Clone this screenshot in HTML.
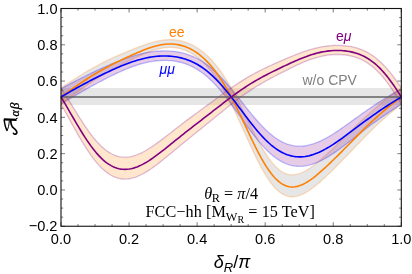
<!DOCTYPE html>
<html><head><meta charset="utf-8"><style>
html,body{margin:0;padding:0;background:#fff;}
svg{display:block}
text{font-family:"Liberation Sans",sans-serif;}
.tl{font-size:14.6px;fill:#000}
.lab{font-size:14px}
.ser{font-family:"Liberation Serif",serif;font-size:16.2px;fill:#000}
.ser2{font-family:"Liberation Serif",serif;fill:#000}
.xl{font-size:18px;fill:#000}
</style></head><body>
<svg width="412" height="274" viewBox="0 0 412 274">
<rect width="412" height="274" fill="#fff"/>
<rect x="61.0" y="88" width="340.3" height="17" fill="#808080" fill-opacity="0.2"/>
<path d="M61.00,88.03 L63.00,86.66 L65.00,85.31 L67.01,83.97 L69.01,82.64 L71.01,81.33 L73.01,80.03 L75.01,78.75 L77.01,77.48 L79.02,76.22 L81.02,74.98 L83.02,73.75 L85.02,72.54 L87.02,71.35 L89.02,70.18 L91.03,69.03 L93.03,67.90 L95.03,66.79 L97.03,65.70 L99.03,64.63 L101.04,63.59 L103.04,62.57 L105.04,61.56 L107.04,60.58 L109.04,59.62 L111.04,58.68 L113.05,57.76 L115.05,56.85 L117.05,55.96 L119.05,55.08 L121.05,54.21 L123.05,53.35 L125.06,52.50 L127.06,51.66 L129.06,50.84 L131.06,50.02 L133.06,49.21 L135.07,48.41 L137.07,47.63 L139.07,46.86 L141.07,46.11 L143.07,45.38 L145.07,44.67 L147.08,44.00 L149.08,43.35 L151.08,42.75 L153.08,42.18 L155.08,41.66 L157.08,41.19 L159.09,40.78 L161.09,40.42 L163.09,40.13 L165.09,39.91 L167.09,39.76 L169.10,39.68 L171.10,39.68 L173.10,39.76 L175.10,39.92 L177.10,40.16 L179.10,40.50 L181.11,40.92 L183.11,41.43 L185.11,42.04 L187.11,42.74 L189.11,43.54 L191.11,44.44 L193.12,45.44 L195.12,46.54 L197.12,47.75 L199.12,49.07 L201.12,50.51 L203.13,52.06 L205.13,53.73 L207.13,55.53 L209.13,57.46 L211.13,59.52 L213.13,61.72 L215.14,64.06 L217.14,66.54 L219.14,69.16 L221.14,71.93 L223.14,74.84 L225.14,77.89 L227.15,81.08 L229.15,84.41 L231.15,87.86 L233.15,91.44 L235.15,95.13 L237.16,98.91 L239.16,102.79 L241.16,106.74 L243.16,110.74 L245.16,114.79 L247.16,118.85 L249.17,122.91 L251.17,126.95 L253.17,130.95 L255.17,134.88 L257.17,138.73 L259.17,142.46 L261.18,146.07 L263.18,149.52 L265.18,152.80 L267.18,155.90 L269.18,158.79 L271.19,161.46 L273.19,163.90 L275.19,166.11 L277.19,168.07 L279.19,169.77 L281.19,171.23 L283.20,172.43 L285.20,173.38 L287.20,174.09 L289.20,174.55 L291.20,174.79 L293.20,174.81 L295.21,174.62 L297.21,174.23 L299.21,173.66 L301.21,172.92 L303.21,172.03 L305.22,170.99 L307.22,169.83 L309.22,168.56 L311.22,167.18 L313.22,165.72 L315.22,164.18 L317.23,162.57 L319.23,160.90 L321.23,159.18 L323.23,157.42 L325.23,155.62 L327.23,153.80 L329.24,151.94 L331.24,150.07 L333.24,148.17 L335.24,146.26 L337.24,144.33 L339.25,142.39 L341.25,140.45 L343.25,138.49 L345.25,136.53 L347.25,134.57 L349.25,132.61 L351.26,130.64 L353.26,128.69 L355.26,126.73 L357.26,124.79 L359.26,122.85 L361.26,120.93 L363.27,119.03 L365.27,117.15 L367.27,115.29 L369.27,113.45 L371.27,111.64 L373.28,109.86 L375.28,108.11 L377.28,106.39 L379.28,104.70 L381.28,103.04 L383.28,101.41 L385.29,99.82 L387.29,98.25 L389.29,96.72 L391.29,95.21 L393.29,93.73 L395.29,92.27 L397.30,90.84 L399.30,89.43 L401.30,88.03 L401.30,104.23 L399.30,105.80 L397.30,107.40 L395.29,109.02 L393.29,110.65 L391.29,112.32 L389.29,114.01 L387.29,115.72 L385.29,117.47 L383.28,119.24 L381.28,121.05 L379.28,122.88 L377.28,124.75 L375.28,126.65 L373.28,128.57 L371.27,130.53 L369.27,132.51 L367.27,134.51 L365.27,136.54 L363.27,138.58 L361.26,140.64 L359.26,142.71 L357.26,144.79 L355.26,146.88 L353.26,148.97 L351.26,151.06 L349.25,153.15 L347.25,155.24 L345.25,157.32 L343.25,159.39 L341.25,161.45 L339.25,163.49 L337.24,165.52 L335.24,167.53 L333.24,169.53 L331.24,171.50 L329.24,173.44 L327.23,175.36 L325.23,177.25 L323.23,179.10 L321.23,180.90 L319.23,182.66 L317.23,184.37 L315.22,186.01 L313.22,187.58 L311.22,189.06 L309.22,190.46 L307.22,191.75 L305.22,192.92 L303.21,193.96 L301.21,194.86 L299.21,195.60 L297.21,196.18 L295.21,196.56 L293.20,196.76 L291.20,196.74 L289.20,196.50 L287.20,196.03 L285.20,195.32 L283.20,194.37 L281.19,193.15 L279.19,191.69 L277.19,189.96 L275.19,187.97 L273.19,185.73 L271.19,183.24 L269.18,180.50 L267.18,177.53 L265.18,174.33 L263.18,170.93 L261.18,167.34 L259.17,163.56 L257.17,159.64 L255.17,155.57 L253.17,151.39 L251.17,147.12 L249.17,142.77 L247.16,138.38 L245.16,133.96 L243.16,129.54 L241.16,125.14 L239.16,120.77 L237.16,116.46 L235.15,112.22 L233.15,108.08 L231.15,104.03 L229.15,100.11 L227.15,96.31 L225.14,92.65 L223.14,89.13 L221.14,85.76 L219.14,82.54 L217.14,79.48 L215.14,76.58 L213.13,73.83 L211.13,71.24 L209.13,68.80 L207.13,66.51 L205.13,64.36 L203.13,62.36 L201.12,60.50 L199.12,58.78 L197.12,57.19 L195.12,55.74 L193.12,54.40 L191.11,53.20 L189.11,52.11 L187.11,51.14 L185.11,50.29 L183.11,49.56 L181.11,48.93 L179.10,48.42 L177.10,48.01 L175.10,47.71 L173.10,47.52 L171.10,47.42 L169.10,47.42 L167.09,47.52 L165.09,47.70 L163.09,47.98 L161.09,48.33 L159.09,48.76 L157.08,49.26 L155.08,49.83 L153.08,50.46 L151.08,51.15 L149.08,51.88 L147.08,52.66 L145.07,53.48 L143.07,54.33 L141.07,55.21 L139.07,56.12 L137.07,57.04 L135.07,57.99 L133.06,58.95 L131.06,59.92 L129.06,60.90 L127.06,61.89 L125.06,62.89 L123.05,63.90 L121.05,64.93 L119.05,65.96 L117.05,67.01 L115.05,68.07 L113.05,69.15 L111.04,70.24 L109.04,71.35 L107.04,72.49 L105.04,73.64 L103.04,74.82 L101.04,76.02 L99.03,77.25 L97.03,78.50 L95.03,79.77 L93.03,81.07 L91.03,82.39 L89.02,83.73 L87.02,85.10 L85.02,86.48 L83.02,87.88 L81.02,89.29 L79.02,90.73 L77.01,92.17 L75.01,93.63 L73.01,95.11 L71.01,96.59 L69.01,98.09 L67.01,99.61 L65.00,101.13 L63.00,102.67 L61.00,104.23Z" fill="#808080" fill-opacity="0.2" stroke="none"/>
<path d="M61.00,88.03 L63.00,86.66 L65.00,85.31 L67.01,83.97 L69.01,82.64 L71.01,81.33 L73.01,80.03 L75.01,78.75 L77.01,77.48 L79.02,76.22 L81.02,74.98 L83.02,73.75 L85.02,72.54 L87.02,71.35 L89.02,70.18 L91.03,69.03 L93.03,67.90 L95.03,66.79 L97.03,65.70 L99.03,64.63 L101.04,63.59 L103.04,62.57 L105.04,61.56 L107.04,60.58 L109.04,59.62 L111.04,58.68 L113.05,57.76 L115.05,56.85 L117.05,55.96 L119.05,55.08 L121.05,54.21 L123.05,53.35 L125.06,52.50 L127.06,51.66 L129.06,50.84 L131.06,50.02 L133.06,49.21 L135.07,48.41 L137.07,47.63 L139.07,46.86 L141.07,46.11 L143.07,45.38 L145.07,44.67 L147.08,44.00 L149.08,43.35 L151.08,42.75 L153.08,42.18 L155.08,41.66 L157.08,41.19 L159.09,40.78 L161.09,40.42 L163.09,40.13 L165.09,39.91 L167.09,39.76 L169.10,39.68 L171.10,39.68 L173.10,39.76 L175.10,39.92 L177.10,40.16 L179.10,40.50 L181.11,40.92 L183.11,41.43 L185.11,42.04 L187.11,42.74 L189.11,43.54 L191.11,44.44 L193.12,45.44 L195.12,46.54 L197.12,47.75 L199.12,49.07 L201.12,50.51 L203.13,52.06 L205.13,53.73 L207.13,55.53 L209.13,57.46 L211.13,59.52 L213.13,61.72 L215.14,64.06 L217.14,66.54 L219.14,69.16 L221.14,71.93 L223.14,74.84 L225.14,77.89 L227.15,81.08 L229.15,84.41 L231.15,87.86 L233.15,91.44 L235.15,95.13 L237.16,98.91 L239.16,102.79 L241.16,106.74 L243.16,110.74 L245.16,114.79 L247.16,118.85 L249.17,122.91 L251.17,126.95 L253.17,130.95 L255.17,134.88 L257.17,138.73 L259.17,142.46 L261.18,146.07 L263.18,149.52 L265.18,152.80 L267.18,155.90 L269.18,158.79 L271.19,161.46 L273.19,163.90 L275.19,166.11 L277.19,168.07 L279.19,169.77 L281.19,171.23 L283.20,172.43 L285.20,173.38 L287.20,174.09 L289.20,174.55 L291.20,174.79 L293.20,174.81 L295.21,174.62 L297.21,174.23 L299.21,173.66 L301.21,172.92 L303.21,172.03 L305.22,170.99 L307.22,169.83 L309.22,168.56 L311.22,167.18 L313.22,165.72 L315.22,164.18 L317.23,162.57 L319.23,160.90 L321.23,159.18 L323.23,157.42 L325.23,155.62 L327.23,153.80 L329.24,151.94 L331.24,150.07 L333.24,148.17 L335.24,146.26 L337.24,144.33 L339.25,142.39 L341.25,140.45 L343.25,138.49 L345.25,136.53 L347.25,134.57 L349.25,132.61 L351.26,130.64 L353.26,128.69 L355.26,126.73 L357.26,124.79 L359.26,122.85 L361.26,120.93 L363.27,119.03 L365.27,117.15 L367.27,115.29 L369.27,113.45 L371.27,111.64 L373.28,109.86 L375.28,108.11 L377.28,106.39 L379.28,104.70 L381.28,103.04 L383.28,101.41 L385.29,99.82 L387.29,98.25 L389.29,96.72 L391.29,95.21 L393.29,93.73 L395.29,92.27 L397.30,90.84 L399.30,89.43 L401.30,88.03" fill="none" stroke="#FF8000" stroke-opacity="0.25" stroke-width="1.3"/>
<path d="M61.00,104.23 L63.00,102.67 L65.00,101.13 L67.01,99.61 L69.01,98.09 L71.01,96.59 L73.01,95.11 L75.01,93.63 L77.01,92.17 L79.02,90.73 L81.02,89.29 L83.02,87.88 L85.02,86.48 L87.02,85.10 L89.02,83.73 L91.03,82.39 L93.03,81.07 L95.03,79.77 L97.03,78.50 L99.03,77.25 L101.04,76.02 L103.04,74.82 L105.04,73.64 L107.04,72.49 L109.04,71.35 L111.04,70.24 L113.05,69.15 L115.05,68.07 L117.05,67.01 L119.05,65.96 L121.05,64.93 L123.05,63.90 L125.06,62.89 L127.06,61.89 L129.06,60.90 L131.06,59.92 L133.06,58.95 L135.07,57.99 L137.07,57.04 L139.07,56.12 L141.07,55.21 L143.07,54.33 L145.07,53.48 L147.08,52.66 L149.08,51.88 L151.08,51.15 L153.08,50.46 L155.08,49.83 L157.08,49.26 L159.09,48.76 L161.09,48.33 L163.09,47.98 L165.09,47.70 L167.09,47.52 L169.10,47.42 L171.10,47.42 L173.10,47.52 L175.10,47.71 L177.10,48.01 L179.10,48.42 L181.11,48.93 L183.11,49.56 L185.11,50.29 L187.11,51.14 L189.11,52.11 L191.11,53.20 L193.12,54.40 L195.12,55.74 L197.12,57.19 L199.12,58.78 L201.12,60.50 L203.13,62.36 L205.13,64.36 L207.13,66.51 L209.13,68.80 L211.13,71.24 L213.13,73.83 L215.14,76.58 L217.14,79.48 L219.14,82.54 L221.14,85.76 L223.14,89.13 L225.14,92.65 L227.15,96.31 L229.15,100.11 L231.15,104.03 L233.15,108.08 L235.15,112.22 L237.16,116.46 L239.16,120.77 L241.16,125.14 L243.16,129.54 L245.16,133.96 L247.16,138.38 L249.17,142.77 L251.17,147.12 L253.17,151.39 L255.17,155.57 L257.17,159.64 L259.17,163.56 L261.18,167.34 L263.18,170.93 L265.18,174.33 L267.18,177.53 L269.18,180.50 L271.19,183.24 L273.19,185.73 L275.19,187.97 L277.19,189.96 L279.19,191.69 L281.19,193.15 L283.20,194.37 L285.20,195.32 L287.20,196.03 L289.20,196.50 L291.20,196.74 L293.20,196.76 L295.21,196.56 L297.21,196.18 L299.21,195.60 L301.21,194.86 L303.21,193.96 L305.22,192.92 L307.22,191.75 L309.22,190.46 L311.22,189.06 L313.22,187.58 L315.22,186.01 L317.23,184.37 L319.23,182.66 L321.23,180.90 L323.23,179.10 L325.23,177.25 L327.23,175.36 L329.24,173.44 L331.24,171.50 L333.24,169.53 L335.24,167.53 L337.24,165.52 L339.25,163.49 L341.25,161.45 L343.25,159.39 L345.25,157.32 L347.25,155.24 L349.25,153.15 L351.26,151.06 L353.26,148.97 L355.26,146.88 L357.26,144.79 L359.26,142.71 L361.26,140.64 L363.27,138.58 L365.27,136.54 L367.27,134.51 L369.27,132.51 L371.27,130.53 L373.28,128.57 L375.28,126.65 L377.28,124.75 L379.28,122.88 L381.28,121.05 L383.28,119.24 L385.29,117.47 L387.29,115.72 L389.29,114.01 L391.29,112.32 L393.29,110.65 L395.29,109.02 L397.30,107.40 L399.30,105.80 L401.30,104.23" fill="none" stroke="#FF8000" stroke-opacity="0.25" stroke-width="1.3"/>
<path d="M61.00,88.84 L63.00,87.72 L65.00,86.62 L67.01,85.54 L69.01,84.46 L71.01,83.40 L73.01,82.34 L75.01,81.30 L77.01,80.26 L79.02,79.24 L81.02,78.22 L83.02,77.22 L85.02,76.22 L87.02,75.24 L89.02,74.26 L91.03,73.30 L93.03,72.34 L95.03,71.39 L97.03,70.45 L99.03,69.53 L101.04,68.61 L103.04,67.70 L105.04,66.81 L107.04,65.93 L109.04,65.06 L111.04,64.21 L113.05,63.37 L115.05,62.54 L117.05,61.74 L119.05,60.95 L121.05,60.18 L123.05,59.43 L125.06,58.70 L127.06,58.00 L129.06,57.32 L131.06,56.67 L133.06,56.05 L135.07,55.46 L137.07,54.89 L139.07,54.36 L141.07,53.87 L143.07,53.40 L145.07,52.98 L147.08,52.59 L149.08,52.24 L151.08,51.92 L153.08,51.65 L155.08,51.42 L157.08,51.23 L159.09,51.08 L161.09,50.98 L163.09,50.92 L165.09,50.91 L167.09,50.95 L169.10,51.04 L171.10,51.17 L173.10,51.36 L175.10,51.60 L177.10,51.90 L179.10,52.26 L181.11,52.68 L183.11,53.16 L185.11,53.71 L187.11,54.33 L189.11,55.01 L191.11,55.77 L193.12,56.61 L195.12,57.53 L197.12,58.53 L199.12,59.61 L201.12,60.78 L203.13,62.04 L205.13,63.39 L207.13,64.83 L209.13,66.36 L211.13,67.98 L213.13,69.69 L215.14,71.49 L217.14,73.38 L219.14,75.35 L221.14,77.40 L223.14,79.53 L225.14,81.73 L227.15,84.00 L229.15,86.33 L231.15,88.71 L233.15,91.14 L235.15,93.61 L237.16,96.11 L239.16,98.63 L241.16,101.17 L243.16,103.71 L245.16,106.24 L247.16,108.75 L249.17,111.25 L251.17,113.70 L253.17,116.12 L255.17,118.48 L257.17,120.79 L259.17,123.02 L261.18,125.18 L263.18,127.26 L265.18,129.25 L267.18,131.14 L269.18,132.93 L271.19,134.62 L273.19,136.20 L275.19,137.67 L277.19,139.02 L279.19,140.26 L281.19,141.38 L283.20,142.38 L285.20,143.26 L287.20,144.02 L289.20,144.66 L291.20,145.19 L293.20,145.60 L295.21,145.90 L297.21,146.08 L299.21,146.16 L301.21,146.13 L303.21,145.99 L305.22,145.75 L307.22,145.42 L309.22,144.99 L311.22,144.47 L313.22,143.87 L315.22,143.18 L317.23,142.41 L319.23,141.57 L321.23,140.66 L323.23,139.68 L325.23,138.64 L327.23,137.54 L329.24,136.39 L331.24,135.19 L333.24,133.94 L335.24,132.66 L337.24,131.35 L339.25,130.00 L341.25,128.62 L343.25,127.23 L345.25,125.82 L347.25,124.39 L349.25,122.96 L351.26,121.51 L353.26,120.07 L355.26,118.62 L357.26,117.18 L359.26,115.74 L361.26,114.31 L363.27,112.89 L365.27,111.49 L367.27,110.09 L369.27,108.71 L371.27,107.35 L373.28,106.00 L375.28,104.66 L377.28,103.35 L379.28,102.05 L381.28,100.77 L383.28,99.51 L385.29,98.26 L387.29,97.03 L389.29,95.81 L391.29,94.61 L393.29,93.43 L395.29,92.26 L397.30,91.11 L399.30,89.96 L401.30,88.84 L401.30,104.23 L399.30,105.50 L397.30,106.78 L395.29,108.07 L393.29,109.38 L391.29,110.71 L389.29,112.04 L387.29,113.40 L385.29,114.77 L383.28,116.15 L381.28,117.55 L379.28,118.97 L377.28,120.40 L375.28,121.86 L373.28,123.32 L371.27,124.80 L369.27,126.30 L367.27,127.81 L365.27,129.34 L363.27,130.87 L361.26,132.42 L359.26,133.97 L357.26,135.53 L355.26,137.09 L353.26,138.65 L351.26,140.21 L349.25,141.76 L347.25,143.30 L345.25,144.83 L343.25,146.35 L341.25,147.83 L339.25,149.30 L337.24,150.73 L335.24,152.13 L333.24,153.49 L331.24,154.81 L329.24,156.08 L327.23,157.29 L325.23,158.45 L323.23,159.54 L321.23,160.57 L319.23,161.53 L317.23,162.41 L315.22,163.22 L313.22,163.94 L311.22,164.57 L309.22,165.11 L307.22,165.56 L305.22,165.91 L303.21,166.16 L301.21,166.30 L299.21,166.33 L297.21,166.25 L295.21,166.06 L293.20,165.75 L291.20,165.32 L289.20,164.77 L287.20,164.10 L285.20,163.30 L283.20,162.38 L281.19,161.33 L279.19,160.15 L277.19,158.85 L275.19,157.43 L273.19,155.88 L271.19,154.21 L269.18,152.42 L267.18,150.51 L265.18,148.50 L263.18,146.38 L261.18,144.15 L259.17,141.83 L257.17,139.43 L255.17,136.94 L253.17,134.38 L251.17,131.75 L249.17,129.07 L247.16,126.35 L245.16,123.59 L243.16,120.80 L241.16,117.99 L239.16,115.18 L237.16,112.38 L235.15,109.59 L233.15,106.82 L231.15,104.09 L229.15,101.40 L227.15,98.77 L225.14,96.19 L223.14,93.69 L221.14,91.25 L219.14,88.90 L217.14,86.64 L215.14,84.47 L213.13,82.39 L211.13,80.41 L209.13,78.53 L207.13,76.75 L205.13,75.07 L203.13,73.50 L201.12,72.03 L199.12,70.66 L197.12,69.39 L195.12,68.21 L193.12,67.13 L191.11,66.15 L189.11,65.25 L187.11,64.44 L185.11,63.71 L183.11,63.06 L181.11,62.49 L179.10,62.00 L177.10,61.57 L175.10,61.22 L173.10,60.93 L171.10,60.71 L169.10,60.54 L167.09,60.44 L165.09,60.40 L163.09,60.41 L161.09,60.48 L159.09,60.60 L157.08,60.77 L155.08,61.00 L153.08,61.27 L151.08,61.60 L149.08,61.97 L147.08,62.38 L145.07,62.84 L143.07,63.35 L141.07,63.90 L139.07,64.48 L137.07,65.11 L135.07,65.77 L133.06,66.47 L131.06,67.21 L129.06,67.97 L127.06,68.77 L125.06,69.59 L123.05,70.45 L121.05,71.32 L119.05,72.22 L117.05,73.15 L115.05,74.09 L113.05,75.05 L111.04,76.03 L109.04,77.02 L107.04,78.03 L105.04,79.05 L103.04,80.09 L101.04,81.14 L99.03,82.20 L97.03,83.27 L95.03,84.35 L93.03,85.44 L91.03,86.55 L89.02,87.66 L87.02,88.78 L85.02,89.91 L83.02,91.05 L81.02,92.19 L79.02,93.35 L77.01,94.52 L75.01,95.70 L73.01,96.88 L71.01,98.08 L69.01,99.29 L67.01,100.51 L65.00,101.73 L63.00,102.97 L61.00,104.23Z" fill="#800080" fill-opacity="0.2" stroke="none"/>
<path d="M61.00,88.84 L63.00,87.72 L65.00,86.62 L67.01,85.54 L69.01,84.46 L71.01,83.40 L73.01,82.34 L75.01,81.30 L77.01,80.26 L79.02,79.24 L81.02,78.22 L83.02,77.22 L85.02,76.22 L87.02,75.24 L89.02,74.26 L91.03,73.30 L93.03,72.34 L95.03,71.39 L97.03,70.45 L99.03,69.53 L101.04,68.61 L103.04,67.70 L105.04,66.81 L107.04,65.93 L109.04,65.06 L111.04,64.21 L113.05,63.37 L115.05,62.54 L117.05,61.74 L119.05,60.95 L121.05,60.18 L123.05,59.43 L125.06,58.70 L127.06,58.00 L129.06,57.32 L131.06,56.67 L133.06,56.05 L135.07,55.46 L137.07,54.89 L139.07,54.36 L141.07,53.87 L143.07,53.40 L145.07,52.98 L147.08,52.59 L149.08,52.24 L151.08,51.92 L153.08,51.65 L155.08,51.42 L157.08,51.23 L159.09,51.08 L161.09,50.98 L163.09,50.92 L165.09,50.91 L167.09,50.95 L169.10,51.04 L171.10,51.17 L173.10,51.36 L175.10,51.60 L177.10,51.90 L179.10,52.26 L181.11,52.68 L183.11,53.16 L185.11,53.71 L187.11,54.33 L189.11,55.01 L191.11,55.77 L193.12,56.61 L195.12,57.53 L197.12,58.53 L199.12,59.61 L201.12,60.78 L203.13,62.04 L205.13,63.39 L207.13,64.83 L209.13,66.36 L211.13,67.98 L213.13,69.69 L215.14,71.49 L217.14,73.38 L219.14,75.35 L221.14,77.40 L223.14,79.53 L225.14,81.73 L227.15,84.00 L229.15,86.33 L231.15,88.71 L233.15,91.14 L235.15,93.61 L237.16,96.11 L239.16,98.63 L241.16,101.17 L243.16,103.71 L245.16,106.24 L247.16,108.75 L249.17,111.25 L251.17,113.70 L253.17,116.12 L255.17,118.48 L257.17,120.79 L259.17,123.02 L261.18,125.18 L263.18,127.26 L265.18,129.25 L267.18,131.14 L269.18,132.93 L271.19,134.62 L273.19,136.20 L275.19,137.67 L277.19,139.02 L279.19,140.26 L281.19,141.38 L283.20,142.38 L285.20,143.26 L287.20,144.02 L289.20,144.66 L291.20,145.19 L293.20,145.60 L295.21,145.90 L297.21,146.08 L299.21,146.16 L301.21,146.13 L303.21,145.99 L305.22,145.75 L307.22,145.42 L309.22,144.99 L311.22,144.47 L313.22,143.87 L315.22,143.18 L317.23,142.41 L319.23,141.57 L321.23,140.66 L323.23,139.68 L325.23,138.64 L327.23,137.54 L329.24,136.39 L331.24,135.19 L333.24,133.94 L335.24,132.66 L337.24,131.35 L339.25,130.00 L341.25,128.62 L343.25,127.23 L345.25,125.82 L347.25,124.39 L349.25,122.96 L351.26,121.51 L353.26,120.07 L355.26,118.62 L357.26,117.18 L359.26,115.74 L361.26,114.31 L363.27,112.89 L365.27,111.49 L367.27,110.09 L369.27,108.71 L371.27,107.35 L373.28,106.00 L375.28,104.66 L377.28,103.35 L379.28,102.05 L381.28,100.77 L383.28,99.51 L385.29,98.26 L387.29,97.03 L389.29,95.81 L391.29,94.61 L393.29,93.43 L395.29,92.26 L397.30,91.11 L399.30,89.96 L401.30,88.84" fill="none" stroke="#0000FF" stroke-opacity="0.25" stroke-width="1.3"/>
<path d="M61.00,104.23 L63.00,102.97 L65.00,101.73 L67.01,100.51 L69.01,99.29 L71.01,98.08 L73.01,96.88 L75.01,95.70 L77.01,94.52 L79.02,93.35 L81.02,92.19 L83.02,91.05 L85.02,89.91 L87.02,88.78 L89.02,87.66 L91.03,86.55 L93.03,85.44 L95.03,84.35 L97.03,83.27 L99.03,82.20 L101.04,81.14 L103.04,80.09 L105.04,79.05 L107.04,78.03 L109.04,77.02 L111.04,76.03 L113.05,75.05 L115.05,74.09 L117.05,73.15 L119.05,72.22 L121.05,71.32 L123.05,70.45 L125.06,69.59 L127.06,68.77 L129.06,67.97 L131.06,67.21 L133.06,66.47 L135.07,65.77 L137.07,65.11 L139.07,64.48 L141.07,63.90 L143.07,63.35 L145.07,62.84 L147.08,62.38 L149.08,61.97 L151.08,61.60 L153.08,61.27 L155.08,61.00 L157.08,60.77 L159.09,60.60 L161.09,60.48 L163.09,60.41 L165.09,60.40 L167.09,60.44 L169.10,60.54 L171.10,60.71 L173.10,60.93 L175.10,61.22 L177.10,61.57 L179.10,62.00 L181.11,62.49 L183.11,63.06 L185.11,63.71 L187.11,64.44 L189.11,65.25 L191.11,66.15 L193.12,67.13 L195.12,68.21 L197.12,69.39 L199.12,70.66 L201.12,72.03 L203.13,73.50 L205.13,75.07 L207.13,76.75 L209.13,78.53 L211.13,80.41 L213.13,82.39 L215.14,84.47 L217.14,86.64 L219.14,88.90 L221.14,91.25 L223.14,93.69 L225.14,96.19 L227.15,98.77 L229.15,101.40 L231.15,104.09 L233.15,106.82 L235.15,109.59 L237.16,112.38 L239.16,115.18 L241.16,117.99 L243.16,120.80 L245.16,123.59 L247.16,126.35 L249.17,129.07 L251.17,131.75 L253.17,134.38 L255.17,136.94 L257.17,139.43 L259.17,141.83 L261.18,144.15 L263.18,146.38 L265.18,148.50 L267.18,150.51 L269.18,152.42 L271.19,154.21 L273.19,155.88 L275.19,157.43 L277.19,158.85 L279.19,160.15 L281.19,161.33 L283.20,162.38 L285.20,163.30 L287.20,164.10 L289.20,164.77 L291.20,165.32 L293.20,165.75 L295.21,166.06 L297.21,166.25 L299.21,166.33 L301.21,166.30 L303.21,166.16 L305.22,165.91 L307.22,165.56 L309.22,165.11 L311.22,164.57 L313.22,163.94 L315.22,163.22 L317.23,162.41 L319.23,161.53 L321.23,160.57 L323.23,159.54 L325.23,158.45 L327.23,157.29 L329.24,156.08 L331.24,154.81 L333.24,153.49 L335.24,152.13 L337.24,150.73 L339.25,149.30 L341.25,147.83 L343.25,146.35 L345.25,144.83 L347.25,143.30 L349.25,141.76 L351.26,140.21 L353.26,138.65 L355.26,137.09 L357.26,135.53 L359.26,133.97 L361.26,132.42 L363.27,130.87 L365.27,129.34 L367.27,127.81 L369.27,126.30 L371.27,124.80 L373.28,123.32 L375.28,121.86 L377.28,120.40 L379.28,118.97 L381.28,117.55 L383.28,116.15 L385.29,114.77 L387.29,113.40 L389.29,112.04 L391.29,110.71 L393.29,109.38 L395.29,108.07 L397.30,106.78 L399.30,105.50 L401.30,104.23" fill="none" stroke="#0000FF" stroke-opacity="0.25" stroke-width="1.3"/>
<path d="M61.00,87.90 L63.00,90.99 L65.00,94.15 L67.01,97.35 L69.01,100.59 L71.01,103.85 L73.01,107.12 L75.01,110.38 L77.01,113.62 L79.02,116.82 L81.02,119.97 L83.02,123.06 L85.02,126.07 L87.02,128.99 L89.02,131.80 L91.03,134.50 L93.03,137.08 L95.03,139.52 L97.03,141.82 L99.03,143.97 L101.04,145.97 L103.04,147.81 L105.04,149.48 L107.04,150.99 L109.04,152.34 L111.04,153.51 L113.05,154.52 L115.05,155.37 L117.05,156.05 L119.05,156.56 L121.05,156.93 L123.05,157.13 L125.06,157.19 L127.06,157.11 L129.06,156.89 L131.06,156.54 L133.06,156.06 L135.07,155.47 L137.07,154.76 L139.07,153.95 L141.07,153.04 L143.07,152.03 L145.07,150.95 L147.08,149.79 L149.08,148.56 L151.08,147.27 L153.08,145.93 L155.08,144.53 L157.08,143.10 L159.09,141.63 L161.09,140.14 L163.09,138.62 L165.09,137.09 L167.09,135.54 L169.10,133.98 L171.10,132.43 L173.10,130.87 L175.10,129.31 L177.10,127.76 L179.10,126.21 L181.11,124.67 L183.11,123.14 L185.11,121.63 L187.11,120.12 L189.11,118.61 L191.11,117.12 L193.12,115.64 L195.12,114.16 L197.12,112.69 L199.12,111.22 L201.12,109.75 L203.13,108.29 L205.13,106.82 L207.13,105.36 L209.13,103.90 L211.13,102.44 L213.13,100.98 L215.14,99.52 L217.14,98.06 L219.14,96.60 L221.14,95.15 L223.14,93.70 L225.14,92.27 L227.15,90.84 L229.15,89.43 L231.15,88.03 L233.15,86.65 L235.15,85.29 L237.16,83.95 L239.16,82.64 L241.16,81.35 L243.16,80.09 L245.16,78.85 L247.16,77.65 L249.17,76.48 L251.17,75.33 L253.17,74.21 L255.17,73.13 L257.17,72.06 L259.17,71.03 L261.18,70.01 L263.18,69.02 L265.18,68.05 L267.18,67.10 L269.18,66.16 L271.19,65.24 L273.19,64.33 L275.19,63.43 L277.19,62.54 L279.19,61.66 L281.19,60.79 L283.20,59.92 L285.20,59.06 L287.20,58.21 L289.20,57.37 L291.20,56.55 L293.20,55.73 L295.21,54.93 L297.21,54.14 L299.21,53.38 L301.21,52.63 L303.21,51.91 L305.22,51.22 L307.22,50.55 L309.22,49.92 L311.22,49.33 L313.22,48.77 L315.22,48.25 L317.23,47.77 L319.23,47.33 L321.23,46.93 L323.23,46.58 L325.23,46.27 L327.23,46.01 L329.24,45.80 L331.24,45.63 L333.24,45.51 L335.24,45.43 L337.24,45.41 L339.25,45.43 L341.25,45.51 L343.25,45.63 L345.25,45.81 L347.25,46.05 L349.25,46.35 L351.26,46.71 L353.26,47.13 L355.26,47.63 L357.26,48.20 L359.26,48.85 L361.26,49.59 L363.27,50.41 L365.27,51.34 L367.27,52.36 L369.27,53.49 L371.27,54.73 L373.28,56.09 L375.28,57.57 L377.28,59.18 L379.28,60.91 L381.28,62.76 L383.28,64.75 L385.29,66.86 L387.29,69.10 L389.29,71.46 L391.29,73.94 L393.29,76.54 L395.29,79.24 L397.30,82.04 L399.30,84.93 L401.30,87.90 L401.30,104.23 L399.30,100.85 L397.30,97.55 L395.29,94.34 L393.29,91.23 L391.29,88.23 L389.29,85.35 L387.29,82.60 L385.29,79.98 L383.28,77.51 L381.28,75.17 L379.28,72.98 L377.28,70.94 L375.28,69.04 L373.28,67.28 L371.27,65.66 L369.27,64.18 L367.27,62.83 L365.27,61.60 L363.27,60.49 L361.26,59.50 L359.26,58.61 L357.26,57.83 L355.26,57.14 L353.26,56.54 L351.26,56.03 L349.25,55.60 L347.25,55.24 L345.25,54.95 L343.25,54.73 L341.25,54.58 L339.25,54.49 L337.24,54.46 L335.24,54.49 L333.24,54.58 L331.24,54.73 L329.24,54.93 L327.23,55.19 L325.23,55.51 L323.23,55.88 L321.23,56.30 L319.23,56.78 L317.23,57.31 L315.22,57.89 L313.22,58.51 L311.22,59.19 L309.22,59.90 L307.22,60.66 L305.22,61.46 L303.21,62.29 L301.21,63.15 L299.21,64.04 L297.21,64.95 L295.21,65.89 L293.20,66.85 L291.20,67.82 L289.20,68.80 L287.20,69.80 L285.20,70.80 L283.20,71.82 L281.19,72.84 L279.19,73.87 L277.19,74.91 L275.19,75.96 L273.19,77.02 L271.19,78.09 L269.18,79.17 L267.18,80.27 L265.18,81.38 L263.18,82.51 L261.18,83.67 L259.17,84.85 L257.17,86.05 L255.17,87.28 L253.17,88.55 L251.17,89.84 L249.17,91.16 L247.16,92.51 L245.16,93.90 L243.16,95.32 L241.16,96.76 L239.16,98.24 L237.16,99.74 L235.15,101.26 L233.15,102.81 L231.15,104.38 L229.15,105.96 L227.15,107.56 L225.14,109.17 L223.14,110.78 L221.14,112.41 L219.14,114.04 L217.14,115.66 L215.14,117.29 L213.13,118.92 L211.13,120.55 L209.13,122.17 L207.13,123.79 L205.13,125.40 L203.13,127.01 L201.12,128.62 L199.12,130.23 L197.12,131.84 L195.12,133.45 L193.12,135.06 L191.11,136.68 L189.11,138.30 L187.11,139.93 L185.11,141.56 L183.11,143.20 L181.11,144.85 L179.10,146.50 L177.10,148.16 L175.10,149.82 L173.10,151.48 L171.10,153.14 L169.10,154.80 L167.09,156.45 L165.09,158.08 L163.09,159.71 L161.09,161.31 L159.09,162.88 L157.08,164.42 L155.08,165.92 L153.08,167.37 L151.08,168.78 L149.08,170.12 L147.08,171.40 L145.07,172.60 L143.07,173.72 L141.07,174.76 L139.07,175.70 L137.07,176.54 L135.07,177.27 L133.06,177.88 L131.06,178.37 L129.06,178.74 L127.06,178.96 L125.06,179.05 L123.05,178.99 L121.05,178.77 L119.05,178.40 L117.05,177.86 L115.05,177.16 L113.05,176.30 L111.04,175.25 L109.04,174.04 L107.04,172.65 L105.04,171.08 L103.04,169.33 L101.04,167.42 L99.03,165.33 L97.03,163.07 L95.03,160.65 L93.03,158.07 L91.03,155.35 L89.02,152.48 L87.02,149.47 L85.02,146.35 L83.02,143.11 L81.02,139.78 L79.02,136.36 L77.01,132.86 L75.01,129.32 L73.01,125.73 L71.01,122.12 L69.01,118.49 L67.01,114.88 L65.00,111.28 L63.00,107.73 L61.00,104.23Z" fill="#FF8000" fill-opacity="0.2" stroke="none"/>
<path d="M61.00,87.90 L63.00,90.99 L65.00,94.15 L67.01,97.35 L69.01,100.59 L71.01,103.85 L73.01,107.12 L75.01,110.38 L77.01,113.62 L79.02,116.82 L81.02,119.97 L83.02,123.06 L85.02,126.07 L87.02,128.99 L89.02,131.80 L91.03,134.50 L93.03,137.08 L95.03,139.52 L97.03,141.82 L99.03,143.97 L101.04,145.97 L103.04,147.81 L105.04,149.48 L107.04,150.99 L109.04,152.34 L111.04,153.51 L113.05,154.52 L115.05,155.37 L117.05,156.05 L119.05,156.56 L121.05,156.93 L123.05,157.13 L125.06,157.19 L127.06,157.11 L129.06,156.89 L131.06,156.54 L133.06,156.06 L135.07,155.47 L137.07,154.76 L139.07,153.95 L141.07,153.04 L143.07,152.03 L145.07,150.95 L147.08,149.79 L149.08,148.56 L151.08,147.27 L153.08,145.93 L155.08,144.53 L157.08,143.10 L159.09,141.63 L161.09,140.14 L163.09,138.62 L165.09,137.09 L167.09,135.54 L169.10,133.98 L171.10,132.43 L173.10,130.87 L175.10,129.31 L177.10,127.76 L179.10,126.21 L181.11,124.67 L183.11,123.14 L185.11,121.63 L187.11,120.12 L189.11,118.61 L191.11,117.12 L193.12,115.64 L195.12,114.16 L197.12,112.69 L199.12,111.22 L201.12,109.75 L203.13,108.29 L205.13,106.82 L207.13,105.36 L209.13,103.90 L211.13,102.44 L213.13,100.98 L215.14,99.52 L217.14,98.06 L219.14,96.60 L221.14,95.15 L223.14,93.70 L225.14,92.27 L227.15,90.84 L229.15,89.43 L231.15,88.03 L233.15,86.65 L235.15,85.29 L237.16,83.95 L239.16,82.64 L241.16,81.35 L243.16,80.09 L245.16,78.85 L247.16,77.65 L249.17,76.48 L251.17,75.33 L253.17,74.21 L255.17,73.13 L257.17,72.06 L259.17,71.03 L261.18,70.01 L263.18,69.02 L265.18,68.05 L267.18,67.10 L269.18,66.16 L271.19,65.24 L273.19,64.33 L275.19,63.43 L277.19,62.54 L279.19,61.66 L281.19,60.79 L283.20,59.92 L285.20,59.06 L287.20,58.21 L289.20,57.37 L291.20,56.55 L293.20,55.73 L295.21,54.93 L297.21,54.14 L299.21,53.38 L301.21,52.63 L303.21,51.91 L305.22,51.22 L307.22,50.55 L309.22,49.92 L311.22,49.33 L313.22,48.77 L315.22,48.25 L317.23,47.77 L319.23,47.33 L321.23,46.93 L323.23,46.58 L325.23,46.27 L327.23,46.01 L329.24,45.80 L331.24,45.63 L333.24,45.51 L335.24,45.43 L337.24,45.41 L339.25,45.43 L341.25,45.51 L343.25,45.63 L345.25,45.81 L347.25,46.05 L349.25,46.35 L351.26,46.71 L353.26,47.13 L355.26,47.63 L357.26,48.20 L359.26,48.85 L361.26,49.59 L363.27,50.41 L365.27,51.34 L367.27,52.36 L369.27,53.49 L371.27,54.73 L373.28,56.09 L375.28,57.57 L377.28,59.18 L379.28,60.91 L381.28,62.76 L383.28,64.75 L385.29,66.86 L387.29,69.10 L389.29,71.46 L391.29,73.94 L393.29,76.54 L395.29,79.24 L397.30,82.04 L399.30,84.93 L401.30,87.90" fill="none" stroke="#800080" stroke-opacity="0.25" stroke-width="1.3"/>
<path d="M61.00,104.23 L63.00,107.73 L65.00,111.28 L67.01,114.88 L69.01,118.49 L71.01,122.12 L73.01,125.73 L75.01,129.32 L77.01,132.86 L79.02,136.36 L81.02,139.78 L83.02,143.11 L85.02,146.35 L87.02,149.47 L89.02,152.48 L91.03,155.35 L93.03,158.07 L95.03,160.65 L97.03,163.07 L99.03,165.33 L101.04,167.42 L103.04,169.33 L105.04,171.08 L107.04,172.65 L109.04,174.04 L111.04,175.25 L113.05,176.30 L115.05,177.16 L117.05,177.86 L119.05,178.40 L121.05,178.77 L123.05,178.99 L125.06,179.05 L127.06,178.96 L129.06,178.74 L131.06,178.37 L133.06,177.88 L135.07,177.27 L137.07,176.54 L139.07,175.70 L141.07,174.76 L143.07,173.72 L145.07,172.60 L147.08,171.40 L149.08,170.12 L151.08,168.78 L153.08,167.37 L155.08,165.92 L157.08,164.42 L159.09,162.88 L161.09,161.31 L163.09,159.71 L165.09,158.08 L167.09,156.45 L169.10,154.80 L171.10,153.14 L173.10,151.48 L175.10,149.82 L177.10,148.16 L179.10,146.50 L181.11,144.85 L183.11,143.20 L185.11,141.56 L187.11,139.93 L189.11,138.30 L191.11,136.68 L193.12,135.06 L195.12,133.45 L197.12,131.84 L199.12,130.23 L201.12,128.62 L203.13,127.01 L205.13,125.40 L207.13,123.79 L209.13,122.17 L211.13,120.55 L213.13,118.92 L215.14,117.29 L217.14,115.66 L219.14,114.04 L221.14,112.41 L223.14,110.78 L225.14,109.17 L227.15,107.56 L229.15,105.96 L231.15,104.38 L233.15,102.81 L235.15,101.26 L237.16,99.74 L239.16,98.24 L241.16,96.76 L243.16,95.32 L245.16,93.90 L247.16,92.51 L249.17,91.16 L251.17,89.84 L253.17,88.55 L255.17,87.28 L257.17,86.05 L259.17,84.85 L261.18,83.67 L263.18,82.51 L265.18,81.38 L267.18,80.27 L269.18,79.17 L271.19,78.09 L273.19,77.02 L275.19,75.96 L277.19,74.91 L279.19,73.87 L281.19,72.84 L283.20,71.82 L285.20,70.80 L287.20,69.80 L289.20,68.80 L291.20,67.82 L293.20,66.85 L295.21,65.89 L297.21,64.95 L299.21,64.04 L301.21,63.15 L303.21,62.29 L305.22,61.46 L307.22,60.66 L309.22,59.90 L311.22,59.19 L313.22,58.51 L315.22,57.89 L317.23,57.31 L319.23,56.78 L321.23,56.30 L323.23,55.88 L325.23,55.51 L327.23,55.19 L329.24,54.93 L331.24,54.73 L333.24,54.58 L335.24,54.49 L337.24,54.46 L339.25,54.49 L341.25,54.58 L343.25,54.73 L345.25,54.95 L347.25,55.24 L349.25,55.60 L351.26,56.03 L353.26,56.54 L355.26,57.14 L357.26,57.83 L359.26,58.61 L361.26,59.50 L363.27,60.49 L365.27,61.60 L367.27,62.83 L369.27,64.18 L371.27,65.66 L373.28,67.28 L375.28,69.04 L377.28,70.94 L379.28,72.98 L381.28,75.17 L383.28,77.51 L385.29,79.98 L387.29,82.60 L389.29,85.35 L391.29,88.23 L393.29,91.23 L395.29,94.34 L397.30,97.55 L399.30,100.85 L401.30,104.23" fill="none" stroke="#800080" stroke-opacity="0.25" stroke-width="1.3"/>
<line x1="61.0" y1="97" x2="401.3" y2="97" stroke="#606060" stroke-width="1.35"/>
<path d="M61.00,97.00 L63.00,95.53 L65.00,94.07 L67.01,92.63 L69.01,91.20 L71.01,89.78 L73.01,88.38 L75.01,86.99 L77.01,85.61 L79.02,84.25 L81.02,82.91 L83.02,81.57 L85.02,80.26 L87.02,78.96 L89.02,77.68 L91.03,76.43 L93.03,75.19 L95.03,73.98 L97.03,72.79 L99.03,71.62 L101.04,70.47 L103.04,69.35 L105.04,68.25 L107.04,67.18 L109.04,66.12 L111.04,65.08 L113.05,64.06 L115.05,63.06 L117.05,62.08 L119.05,61.10 L121.05,60.14 L123.05,59.19 L125.06,58.26 L127.06,57.33 L129.06,56.41 L131.06,55.50 L133.06,54.60 L135.07,53.71 L137.07,52.84 L139.07,51.99 L141.07,51.15 L143.07,50.34 L145.07,49.55 L147.08,48.80 L149.08,48.08 L151.08,47.40 L153.08,46.77 L155.08,46.19 L157.08,45.66 L159.09,45.20 L161.09,44.80 L163.09,44.48 L165.09,44.22 L167.09,44.05 L169.10,43.97 L171.10,43.96 L173.10,44.05 L175.10,44.23 L177.10,44.51 L179.10,44.88 L181.11,45.36 L183.11,45.93 L185.11,46.61 L187.11,47.39 L189.11,48.29 L191.11,49.29 L193.12,50.40 L195.12,51.63 L197.12,52.98 L199.12,54.45 L201.12,56.04 L203.13,57.76 L205.13,59.62 L207.13,61.61 L209.13,63.74 L211.13,66.01 L213.13,68.43 L215.14,70.99 L217.14,73.71 L219.14,76.57 L221.14,79.59 L223.14,82.75 L225.14,86.06 L227.15,89.51 L229.15,93.10 L231.15,96.82 L233.15,100.65 L235.15,104.59 L237.16,108.63 L239.16,112.75 L241.16,116.93 L243.16,121.15 L245.16,125.41 L247.16,129.67 L249.17,133.91 L251.17,138.12 L253.17,142.27 L255.17,146.34 L257.17,150.31 L259.17,154.15 L261.18,157.84 L263.18,161.38 L265.18,164.73 L267.18,167.88 L269.18,170.81 L271.19,173.52 L273.19,175.99 L275.19,178.22 L277.19,180.19 L279.19,181.91 L281.19,183.37 L283.20,184.58 L285.20,185.53 L287.20,186.24 L289.20,186.71 L291.20,186.94 L293.20,186.96 L295.21,186.77 L297.21,186.38 L299.21,185.81 L301.21,185.07 L303.21,184.17 L305.22,183.13 L307.22,181.97 L309.22,180.68 L311.22,179.30 L313.22,177.82 L315.22,176.27 L317.23,174.64 L319.23,172.95 L321.23,171.21 L323.23,169.42 L325.23,167.60 L327.23,165.74 L329.24,163.85 L331.24,161.93 L333.24,160.00 L335.24,158.04 L337.24,156.06 L339.25,154.08 L341.25,152.08 L343.25,150.06 L345.25,148.04 L347.25,146.02 L349.25,143.98 L351.26,141.95 L353.26,139.92 L355.26,137.89 L357.26,135.86 L359.26,133.85 L361.26,131.85 L363.27,129.86 L365.27,127.88 L367.27,125.93 L369.27,124.00 L371.27,122.10 L373.28,120.22 L375.28,118.37 L377.28,116.56 L379.28,114.77 L381.28,113.01 L383.28,111.29 L385.29,109.59 L387.29,107.93 L389.29,106.29 L391.29,104.68 L393.29,103.10 L395.29,101.54 L397.30,100.01 L399.30,98.49 L401.30,97.00" fill="none" stroke="#FF8000" stroke-width="1.6" stroke-linejoin="round"/>
<path d="M61.00,97.00 L63.00,95.81 L65.00,94.64 L67.01,93.48 L69.01,92.33 L71.01,91.18 L73.01,90.05 L75.01,88.93 L77.01,87.82 L79.02,86.72 L81.02,85.63 L83.02,84.55 L85.02,83.48 L87.02,82.42 L89.02,81.37 L91.03,80.32 L93.03,79.29 L95.03,78.27 L97.03,77.25 L99.03,76.25 L101.04,75.26 L103.04,74.27 L105.04,73.31 L107.04,72.35 L109.04,71.41 L111.04,70.48 L113.05,69.56 L115.05,68.67 L117.05,67.79 L119.05,66.93 L121.05,66.09 L123.05,65.27 L125.06,64.48 L127.06,63.71 L129.06,62.97 L131.06,62.26 L133.06,61.58 L135.07,60.93 L137.07,60.31 L139.07,59.73 L141.07,59.19 L143.07,58.68 L145.07,58.21 L147.08,57.78 L149.08,57.40 L151.08,57.05 L153.08,56.75 L155.08,56.50 L157.08,56.29 L159.09,56.13 L161.09,56.02 L163.09,55.96 L165.09,55.94 L167.09,55.99 L169.10,56.08 L171.10,56.23 L173.10,56.44 L175.10,56.70 L177.10,57.03 L179.10,57.43 L181.11,57.89 L183.11,58.41 L185.11,59.01 L187.11,59.69 L189.11,60.44 L191.11,61.28 L193.12,62.19 L195.12,63.20 L197.12,64.29 L199.12,65.47 L201.12,66.75 L203.13,68.12 L205.13,69.59 L207.13,71.15 L209.13,72.81 L211.13,74.57 L213.13,76.42 L215.14,78.37 L217.14,80.41 L219.14,82.54 L221.14,84.75 L223.14,87.04 L225.14,89.40 L227.15,91.83 L229.15,94.33 L231.15,96.87 L233.15,99.46 L235.15,102.09 L237.16,104.74 L239.16,107.41 L241.16,110.09 L243.16,112.77 L245.16,115.44 L247.16,118.09 L249.17,120.70 L251.17,123.28 L253.17,125.81 L255.17,128.27 L257.17,130.67 L259.17,133.00 L261.18,135.24 L263.18,137.40 L265.18,139.46 L267.18,141.42 L269.18,143.27 L271.19,145.01 L273.19,146.64 L275.19,148.15 L277.19,149.54 L279.19,150.81 L281.19,151.96 L283.20,152.99 L285.20,153.89 L287.20,154.67 L289.20,155.33 L291.20,155.87 L293.20,156.29 L295.21,156.59 L297.21,156.78 L299.21,156.86 L301.21,156.83 L303.21,156.69 L305.22,156.45 L307.22,156.10 L309.22,155.67 L311.22,155.13 L313.22,154.51 L315.22,153.81 L317.23,153.02 L319.23,152.16 L321.23,151.22 L323.23,150.21 L325.23,149.14 L327.23,148.01 L329.24,146.83 L331.24,145.59 L333.24,144.31 L335.24,142.99 L337.24,141.63 L339.25,140.24 L341.25,138.81 L343.25,137.37 L345.25,135.90 L347.25,134.42 L349.25,132.93 L351.26,131.43 L353.26,129.92 L355.26,128.42 L357.26,126.91 L359.26,125.41 L361.26,123.92 L363.27,122.43 L365.27,120.95 L367.27,119.49 L369.27,118.04 L371.27,116.61 L373.28,115.19 L375.28,113.78 L377.28,112.40 L379.28,111.03 L381.28,109.67 L383.28,108.34 L385.29,107.02 L387.29,105.71 L389.29,104.42 L391.29,103.15 L393.29,101.89 L395.29,100.65 L397.30,99.42 L399.30,98.20 L401.30,97.00" fill="none" stroke="#0000FF" stroke-width="1.6" stroke-linejoin="round"/>
<path d="M61.00,97.00 L63.00,100.32 L65.00,103.70 L67.01,107.12 L69.01,110.57 L71.01,114.03 L73.01,117.49 L75.01,120.94 L77.01,124.35 L79.02,127.71 L81.02,131.01 L83.02,134.24 L85.02,137.37 L87.02,140.40 L89.02,143.32 L91.03,146.12 L93.03,148.78 L95.03,151.30 L97.03,153.66 L99.03,155.87 L101.04,157.92 L103.04,159.81 L105.04,161.52 L107.04,163.06 L109.04,164.43 L111.04,165.63 L113.05,166.66 L115.05,167.52 L117.05,168.21 L119.05,168.73 L121.05,169.10 L123.05,169.31 L125.06,169.38 L127.06,169.29 L129.06,169.07 L131.06,168.71 L133.06,168.22 L135.07,167.62 L137.07,166.90 L139.07,166.07 L141.07,165.14 L143.07,164.12 L145.07,163.02 L147.08,161.83 L149.08,160.58 L151.08,159.26 L153.08,157.88 L155.08,156.45 L157.08,154.98 L159.09,153.47 L161.09,151.94 L163.09,150.37 L165.09,148.79 L167.09,147.19 L169.10,145.59 L171.10,143.97 L173.10,142.36 L175.10,140.74 L177.10,139.13 L179.10,137.52 L181.11,135.92 L183.11,134.32 L185.11,132.74 L187.11,131.16 L189.11,129.59 L191.11,128.02 L193.12,126.47 L195.12,124.91 L197.12,123.36 L199.12,121.82 L201.12,120.27 L203.13,118.72 L205.13,117.18 L207.13,115.63 L209.13,114.08 L211.13,112.53 L213.13,110.98 L215.14,109.42 L217.14,107.87 L219.14,106.32 L221.14,104.77 L223.14,103.22 L225.14,101.69 L227.15,100.16 L229.15,98.64 L231.15,97.14 L233.15,95.66 L235.15,94.19 L237.16,92.75 L239.16,91.33 L241.16,89.94 L243.16,88.58 L245.16,87.24 L247.16,85.94 L249.17,84.66 L251.17,83.42 L253.17,82.20 L255.17,81.02 L257.17,79.86 L259.17,78.73 L261.18,77.62 L263.18,76.54 L265.18,75.48 L267.18,74.44 L269.18,73.41 L271.19,72.40 L273.19,71.40 L275.19,70.42 L277.19,69.44 L279.19,68.47 L281.19,67.51 L283.20,66.55 L285.20,65.61 L287.20,64.67 L289.20,63.74 L291.20,62.83 L293.20,61.92 L295.21,61.04 L297.21,60.17 L299.21,59.32 L301.21,58.49 L303.21,57.69 L305.22,56.92 L307.22,56.19 L309.22,55.49 L311.22,54.82 L313.22,54.20 L315.22,53.62 L317.23,53.08 L319.23,52.60 L321.23,52.15 L323.23,51.76 L325.23,51.42 L327.23,51.13 L329.24,50.89 L331.24,50.70 L333.24,50.56 L335.24,50.48 L337.24,50.45 L339.25,50.48 L341.25,50.56 L343.25,50.71 L345.25,50.91 L347.25,51.17 L349.25,51.50 L351.26,51.90 L353.26,52.38 L355.26,52.93 L357.26,53.57 L359.26,54.29 L361.26,55.11 L363.27,56.03 L365.27,57.06 L367.27,58.19 L369.27,59.45 L371.27,60.82 L373.28,62.33 L375.28,63.96 L377.28,65.73 L379.28,67.64 L381.28,69.68 L383.28,71.86 L385.29,74.18 L387.29,76.62 L389.29,79.20 L391.29,81.91 L393.29,84.73 L395.29,87.66 L397.30,90.69 L399.30,93.81 L401.30,97.00" fill="none" stroke="#800080" stroke-width="1.6" stroke-linejoin="round"/>
<path d="M61.00,226.25 v-4 M61.00,8.5 v4 M78.02,226.25 v-2.2 M78.02,8.5 v2.2 M95.03,226.25 v-2.2 M95.03,8.5 v2.2 M112.05,226.25 v-2.2 M112.05,8.5 v2.2 M129.06,226.25 v-4 M129.06,8.5 v4 M146.07,226.25 v-2.2 M146.07,8.5 v2.2 M163.09,226.25 v-2.2 M163.09,8.5 v2.2 M180.11,226.25 v-2.2 M180.11,8.5 v2.2 M197.12,226.25 v-4 M197.12,8.5 v4 M214.14,226.25 v-2.2 M214.14,8.5 v2.2 M231.15,226.25 v-2.2 M231.15,8.5 v2.2 M248.17,226.25 v-2.2 M248.17,8.5 v2.2 M265.18,226.25 v-4 M265.18,8.5 v4 M282.20,226.25 v-2.2 M282.20,8.5 v2.2 M299.21,226.25 v-2.2 M299.21,8.5 v2.2 M316.23,226.25 v-2.2 M316.23,8.5 v2.2 M333.24,226.25 v-4 M333.24,8.5 v4 M350.26,226.25 v-2.2 M350.26,8.5 v2.2 M367.27,226.25 v-2.2 M367.27,8.5 v2.2 M384.29,226.25 v-2.2 M384.29,8.5 v2.2 M401.30,226.25 v-4 M401.30,8.5 v4 M61.0,226.25 h4 M401.3,226.25 h-4 M61.0,217.18 h2.2 M401.3,217.18 h-2.2 M61.0,208.10 h2.2 M401.3,208.10 h-2.2 M61.0,199.03 h2.2 M401.3,199.03 h-2.2 M61.0,189.96 h4 M401.3,189.96 h-4 M61.0,180.89 h2.2 M401.3,180.89 h-2.2 M61.0,171.81 h2.2 M401.3,171.81 h-2.2 M61.0,162.74 h2.2 M401.3,162.74 h-2.2 M61.0,153.67 h4 M401.3,153.67 h-4 M61.0,144.59 h2.2 M401.3,144.59 h-2.2 M61.0,135.52 h2.2 M401.3,135.52 h-2.2 M61.0,126.45 h2.2 M401.3,126.45 h-2.2 M61.0,117.37 h4 M401.3,117.37 h-4 M61.0,108.30 h2.2 M401.3,108.30 h-2.2 M61.0,99.23 h2.2 M401.3,99.23 h-2.2 M61.0,90.16 h2.2 M401.3,90.16 h-2.2 M61.0,81.08 h4 M401.3,81.08 h-4 M61.0,72.01 h2.2 M401.3,72.01 h-2.2 M61.0,62.94 h2.2 M401.3,62.94 h-2.2 M61.0,53.86 h2.2 M401.3,53.86 h-2.2 M61.0,44.79 h4 M401.3,44.79 h-4 M61.0,35.72 h2.2 M401.3,35.72 h-2.2 M61.0,26.65 h2.2 M401.3,26.65 h-2.2 M61.0,17.57 h2.2 M401.3,17.57 h-2.2 M61.0,8.50 h4 M401.3,8.50 h-4" stroke="#444" stroke-width="0.7" fill="none"/>
<rect x="61.0" y="8.5" width="340.3" height="217.75" fill="none" stroke="#111" stroke-width="1.1"/>
<g style="will-change:transform">
<text transform="translate(61.00,243.7) scale(1,1.06)" text-anchor="middle" class="tl">0.0</text>
<text transform="translate(129.06,243.7) scale(1,1.06)" text-anchor="middle" class="tl">0.2</text>
<text transform="translate(197.12,243.7) scale(1,1.06)" text-anchor="middle" class="tl">0.4</text>
<text transform="translate(265.18,243.7) scale(1,1.06)" text-anchor="middle" class="tl">0.6</text>
<text transform="translate(333.24,243.7) scale(1,1.06)" text-anchor="middle" class="tl">0.8</text>
<text transform="translate(401.30,243.7) scale(1,1.06)" text-anchor="middle" class="tl">1.0</text>
<text transform="translate(57.5,13.70) scale(1,1.06)" text-anchor="end" class="tl">1.0</text>
<text transform="translate(57.5,49.99) scale(1,1.06)" text-anchor="end" class="tl">0.8</text>
<text transform="translate(57.5,86.28) scale(1,1.06)" text-anchor="end" class="tl">0.6</text>
<text transform="translate(57.5,122.58) scale(1,1.06)" text-anchor="end" class="tl">0.4</text>
<text transform="translate(57.5,158.87) scale(1,1.06)" text-anchor="end" class="tl">0.2</text>
<text transform="translate(57.5,195.16) scale(1,1.06)" text-anchor="end" class="tl">0.0</text>
<text transform="translate(57.5,231.45) scale(1,1.06)" text-anchor="end" class="tl">−0.2</text>
<text x="169" y="37.2" class="lab" fill="#FF8000">ee</text>
<text x="159.5" y="74" class="lab" fill="#0000FF" font-style="italic">μμ</text>
<text x="336" y="41" class="lab" fill="#800080">e<tspan font-style="italic">μ</tspan></text>
<text x="302.5" y="84.7" class="lab" fill="#808080">w/o CPV</text>
<text x="231.2" y="199" text-anchor="middle" class="ser" letter-spacing="0.05"><tspan font-style="italic">θ</tspan><tspan font-size="12.3" dy="3.2" dx="-0.6">R</tspan><tspan dy="-3.2" dx="0"> = </tspan><tspan font-style="italic">π</tspan>/4</text>
<text x="230.3" y="217.4" text-anchor="middle" class="ser" letter-spacing="0.06">FCC−hh [M<tspan font-size="12.3" dy="3.2">W</tspan><tspan font-size="10" dy="2.6">R</tspan><tspan dy="-5.8"> = 15 TeV]</tspan></text>
<text x="232" y="268" text-anchor="middle" class="xl"><tspan font-style="italic">δ</tspan><tspan font-style="italic" font-size="13" dy="3.5">R</tspan><tspan dy="-3.5">/</tspan><tspan font-style="italic">π</tspan></text>
<g fill="none" stroke="#000" stroke-linecap="round" stroke-linejoin="round"><path d="M3.9,119.4 L16.6,119.8" stroke-width="2.2" stroke-linecap="butt"/><path d="M16.4,118.6 L17.3,118.3" stroke-width="1"/><path d="M4.2,120 C4.6,123.5 5.6,128 7.0,130.4" stroke-width="1.5"/><path d="M7.0,130.4 C8.3,129 9.0,125 9.3,121" stroke-width="1.0"/><path d="M10.7,120 C10.8,123.5 11.4,126.3 13.4,127.9 C15.3,129.4 17.1,130.8 16.8,132.8 C16.4,134.5 14.3,134.7 13.5,133.3" stroke-width="1.7"/></g><g transform="translate(0,137.3) rotate(-90)"><text x="20.8" y="18.5" font-style="italic" font-size="12.3" stroke="#000" stroke-width="0.3" class="ser2">α<tspan dx="0.8" font-size="13.5">β</tspan></text></g>
</g>
</svg></body></html>
